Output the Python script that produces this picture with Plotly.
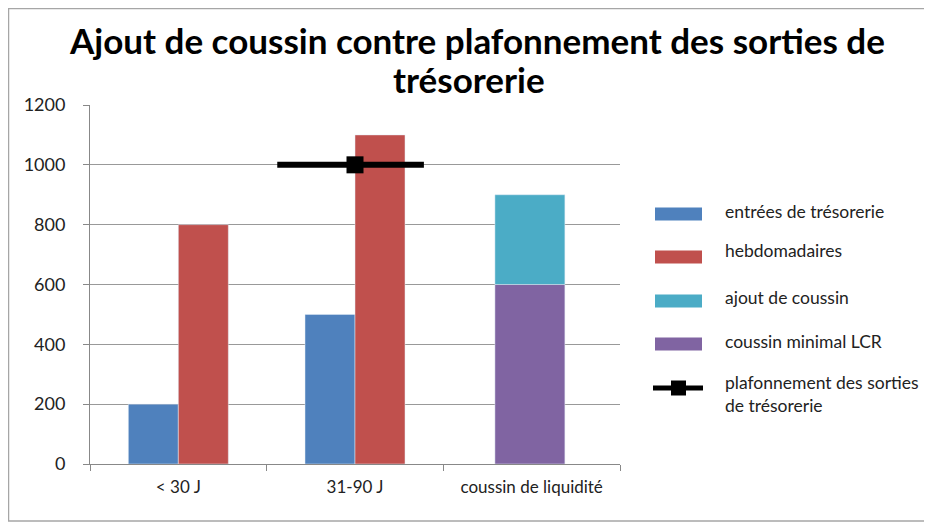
import plotly.graph_objects as go

categories = ["< 30 J", "31-90 J", "coussin de liquidité"]
entrees = [200, 500, None]
hebdo = [800, 1100, None]
coussin_min = [None, None, 600]
ajout = [None, None, 300]
plafond_x = ["31-90 J"]
plafond_y = [1000]
series_names = ["entrées de trésorerie", "hebdomadaires", "ajout de coussin",
                "coussin minimal LCR", "plafonnement des sorties<br>de trésorerie"]
title_lines = ["Ajout de coussin contre plafonnement des sorties de", "trésorerie"]
y_ticks = [0, 200, 400, 600, 800, 1000, 1200]

BLUE, RED, TEAL, PURPLE = "#4F81BD", "#C0504D", "#4BACC6", "#8064A2"
FONT = "Lato"
OFF = 8  # browser body margin
W, H = 932 - OFF, 524 - OFF
L, R, T, B = 90, 620, 105, 464  # plot area in page pixels


def px(x):
    return (x - L) / (R - L)


def py(y):
    return (B - y) / (B - T)


fig = go.Figure()
bw = 0.283
fig.add_bar(x=categories, y=entrees, name=series_names[0], marker_color=BLUE,
            width=bw, offset=-bw, showlegend=False)
fig.add_bar(x=categories, y=hebdo, name=series_names[1], marker_color=RED,
            width=bw, offset=0, showlegend=False)
sw = 0.396
fig.add_bar(x=categories, y=coussin_min, name=series_names[3], marker_color=PURPLE,
            width=sw, offset=-sw / 2 - 0.01, showlegend=False)
fig.add_bar(x=categories, y=ajout, base=[v if v is not None else 0 for v in coussin_min],
            name=series_names[2], marker_color=TEAL,
            width=sw, offset=-sw / 2 - 0.01, showlegend=False)

shapes = []
annotations = []
# plafonnement line (horizontal segment across the category)
shapes.append(dict(type="line", xref="x", yref="y",
                   x0=plafond_x[0], x1=plafond_x[0], x0shift=-0.44, x1shift=0.39,
                   y0=plafond_y[0], y1=plafond_y[0],
                   line=dict(color="black", width=6), layer="above"))
fig.add_scatter(x=plafond_x, y=plafond_y, mode="markers", name="plafonnement",
                marker=dict(symbol="square", size=17, color="black"),
                showlegend=False, cliponaxis=False)

# outer border
shapes.append(dict(type="rect", xref="paper", yref="paper",
                   x0=px(OFF + 0.5), x1=px(930), y0=py(521), y1=py(OFF + 0.5),
                   line=dict(color="#A6A6A6", width=1.5), layer="below"))
# custom legend
sym_x0, sym_x1 = 655, 702
rect_items = [(BLUE, 214, 211, series_names[0]), (RED, 257, 250, series_names[1]),
              (TEAL, 301, 297, series_names[2]), (PURPLE, 344, 341, series_names[3])]
for col, yc, yt, name in rect_items:
    shapes.append(dict(type="rect", xref="paper", yref="paper",
                       x0=px(sym_x0), x1=px(sym_x1), y0=py(yc + 6.5), y1=py(yc - 6.5),
                       fillcolor=col, line=dict(width=0)))
    annotations.append(dict(xref="paper", yref="paper", x=px(723), y=py(yt),
                            text=name, showarrow=False, xanchor="left", yanchor="middle",
                            font=dict(family=FONT, size=17.5, color="#222")))
shapes.append(dict(type="line", xref="paper", yref="paper", x0=px(653), x1=px(703),
                   y0=py(388), y1=py(388), line=dict(color="black", width=5)))
shapes.append(dict(type="rect", xref="paper", yref="paper", x0=px(671), x1=px(686),
                   y0=py(395.5), y1=py(380.5), fillcolor="black", line=dict(width=0)))
annotations.append(dict(xref="paper", yref="paper", x=px(723), y=py(394),
                        text=series_names[4], showarrow=False, xanchor="left", yanchor="middle",
                        align="left", font=dict(family=FONT, size=17.5, color="#222")))
# title lines
annotations.append(dict(xref="paper", yref="paper", x=px(476.5), y=py(40),
                        text="<b>" + title_lines[0] + "</b>", showarrow=False,
                        xanchor="center", yanchor="middle",
                        font=dict(family=FONT, size=35, color="black")))
annotations.append(dict(xref="paper", yref="paper", x=px(469), y=py(79),
                        text="<b>" + title_lines[1] + "</b>", showarrow=False,
                        xanchor="center", yanchor="middle",
                        font=dict(family=FONT, size=35, color="black")))

fig.update_layout(
    width=W, height=H,
    margin=dict(l=L - OFF, r=W - (R - OFF), t=T - OFF, b=H - (B - OFF)),
    paper_bgcolor="white", plot_bgcolor="white",
    barmode="overlay",
    shapes=shapes, annotations=annotations,
    showlegend=False,
)
fig.update_xaxes(type="category", categoryorder="array", categoryarray=categories,
                 tickson="boundaries", ticks="outside", ticklen=6, tickcolor="#888",
                 showline=True, linecolor="#888", linewidth=1, ticklabelstandoff=8,
                 showgrid=False, tickfont=dict(family=FONT, size=17, color="#222"),
                 range=[-0.5, 2.5])
fig.update_yaxes(range=[0, 1200], tickvals=y_ticks, ticks="outside", ticklen=6,
                 tickcolor="#888", showline=True, linecolor="#888", linewidth=1,
                 showgrid=True, gridcolor="#999", gridwidth=1, ticklabelstandoff=14,
                 tickfont=dict(family=FONT, size=18, color="#222"), zeroline=False)

fig.write_html("out.html")
